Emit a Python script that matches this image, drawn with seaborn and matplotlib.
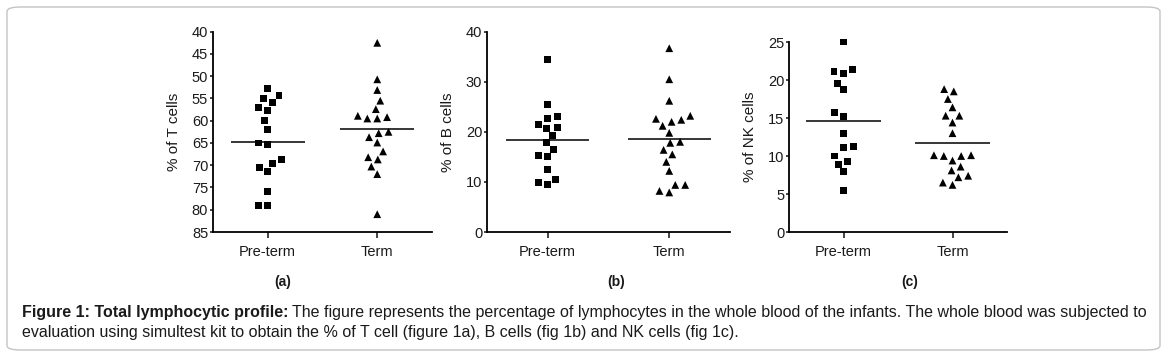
import numpy as np
import pandas as pd
import seaborn as sns
import matplotlib.pyplot as plt
from matplotlib.patches import FancyBboxPatch

sns.set_style("ticks")
plt.rcParams['font.family'] = ['Liberation Sans', 'DejaVu Sans']

groups = ["Pre-term", "Term"]

# % of T cells
t_pre = [52.8, 55.1, 54.4, 55.9, 57.1, 57.7, 60.0, 61.9, 65.0, 65.3, 68.8, 69.6, 70.5, 71.4, 76.0, 79.1, 79.1]
t_term = [42.5, 50.7, 53.1, 55.5, 57.4, 59.2, 59.5, 59.5, 58.9, 62.5, 63.7, 62.8, 64.9, 66.9, 68.7, 68.2, 70.3, 72.0, 81.0]

# % of B cells
b_pre = [34.5, 25.5, 23.0, 22.6, 21.5, 20.6, 20.8, 19.2, 17.8, 16.5, 15.0, 15.2, 12.4, 10.4, 9.4, 9.9]
b_term = [36.7, 30.5, 26.2, 23.2, 22.4, 21.2, 22.0, 22.6, 19.8, 17.8, 18.0, 16.4, 15.5, 14.0, 12.2, 9.4, 9.4, 7.9, 8.2]

# % of NK cells
nk_pre = [25.0, 21.4, 20.9, 21.1, 19.6, 18.7, 15.7, 15.2, 13.0, 11.2, 11.1, 10.0, 8.9, 9.3, 7.9, 5.4]
nk_term = [18.5, 18.8, 17.5, 16.4, 15.3, 15.3, 14.4, 13.0, 10.1, 10.0, 10.0, 10.1, 9.4, 8.6, 8.1, 7.2, 7.4, 6.2, 6.5]

ylabels = ["% of T cells", "% of B cells", "% of NK cells"]
panel_tags = ["(a)", "(b)", "(c)"]
ylims = [(85, 40), (0, 40), (0, 25)]
yticks = [np.arange(40, 86, 5), np.arange(0, 41, 10), np.arange(0, 26, 5)]

W, H = 1165, 356
fig = plt.figure(figsize=(W / 100, H / 100), dpi=100)

# axes boxes in pixels: left, right, top, bottom
boxes = [(213, 432, 31.7, 232), (487, 730, 31.7, 232), (789, 1007, 42, 232)]
ink = "#1a1a1a"

panels = [(t_pre, t_term), (b_pre, b_term), (nk_pre, nk_term)]
for i, (pre, term) in enumerate(panels):
    l, r, t, b = boxes[i]
    ax = fig.add_axes([l / W, 1 - b / H, (r - l) / W, (b - t) / H])
    df = pd.DataFrame({"group": ["Pre-term"] * len(pre) + ["Term"] * len(term),
                       "value": pre + term})
    # invisible edge widens the swarm spacing without growing the marker
    sns.swarmplot(data=df[df.group == "Pre-term"], x="group", y="value", order=groups,
                  marker="s", color="black", size=5, linewidth=1.6, edgecolor="none", ax=ax)
    sns.swarmplot(data=df[df.group == "Term"], x="group", y="value", order=groups,
                  marker="^", color="black", size=5.6, linewidth=1.2, edgecolor="none", ax=ax)
    # let the top point in (c) sit over the axis end
    for coll in ax.collections:
        if len(coll.get_offsets()) > 1:
            coll.set_clip_on(False)
    for k, vals in enumerate([pre, term]):
        m = np.mean(vals)
        ax.hlines(m, k - 0.34, k + 0.34, color="black", lw=1.1)
    ax.set_xlim(-0.5, 1.5)
    ax.set_ylim(*ylims[i])
    ax.set_yticks(yticks[i])
    ax.set_xlabel("")
    ax.set_ylabel(ylabels[i], fontsize=11, color=ink)
    ax.yaxis.set_label_coords(-32 / (r - l), 0.5)
    sns.despine(ax=ax)
    for s in ["left", "bottom"]:
        ax.spines[s].set_linewidth(1.3)
        ax.spines[s].set_color("black")
    ax.tick_params(axis="y", length=2.5, width=1.2, pad=1, labelsize=10.5, labelcolor=ink)
    ax.tick_params(axis="x", length=4, width=1.2, pad=5, labelsize=10.5, labelcolor=ink)

tag_x = [283, 616, 910]
for x, tag in zip(tag_x, panel_tags):
    fig.text(x / W, 1 - 282 / H, tag, ha="center", va="center", fontsize=10,
             fontweight="bold", color=ink)

# caption box
box = FancyBboxPatch((7 / W, 1 - 350 / H), 1153 / W, 343 / H,
                     boxstyle="round,pad=0,rounding_size=0.012",
                     transform=fig.transFigure, fill=False, edgecolor="#c4c4c4", lw=1)
fig.patches.append(box)

cap_size = 11.5
bold = fig.text(22 / W, 1 - 313 / H, "Figure 1: Total lymphocytic profile:", fontsize=cap_size,
                fontweight="bold", va="center", ha="left", color=ink)
fig.canvas.draw()
bb = bold.get_window_extent(renderer=fig.canvas.get_renderer())
fig.text((bb.x1 + 3) / W, 1 - 313 / H,
         "The figure represents the percentage of lymphocytes in the whole blood of the infants. "
         "The whole blood was subjected to",
         fontsize=cap_size, va="center", ha="left", color=ink)
fig.text(22 / W, 1 - 332 / H,
         "evaluation using simultest kit to obtain the % of T cell (figure 1a), B cells (fig 1b) "
         "and NK cells (fig 1c).",
         fontsize=cap_size, va="center", ha="left", color=ink)

fig.savefig("out.png", dpi=100)
